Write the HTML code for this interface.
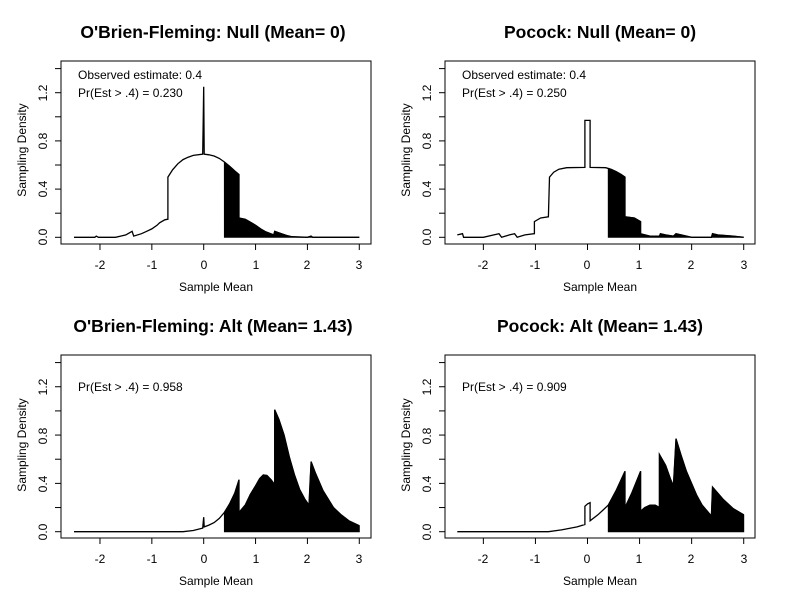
<!DOCTYPE html>
<html><head><meta charset="utf-8"><style>
html,body{margin:0;padding:0;background:#fff}
svg{display:block}
text{font-family:"Liberation Sans",Arial,sans-serif;fill:#000}
.t{font-size:17.5px;font-weight:bold}
.k{font-size:12px}
.a{font-size:12px}
</style></head><body>
<svg id="s" width="792" height="611" viewBox="0 0 792 611" xmlns="http://www.w3.org/2000/svg">
<rect width="792" height="611" fill="#fff"/>
<text class="t" x="213" y="38" text-anchor="middle">O'Brien-Fleming: Null (Mean= 0)</text>
<text class="t" x="600" y="38" text-anchor="middle">Pocock: Null (Mean= 0)</text>
<text class="t" x="213" y="332" text-anchor="middle">O'Brien-Fleming: Alt (Mean= 1.43)</text>
<text class="t" x="600" y="332" text-anchor="middle">Pocock: Alt (Mean= 1.43)</text>
<text class="k" x="216" y="291" text-anchor="middle">Sample Mean</text>
<text class="k" x="600" y="291" text-anchor="middle">Sample Mean</text>
<text class="k" x="216" y="585" text-anchor="middle">Sample Mean</text>
<text class="k" x="600" y="585" text-anchor="middle">Sample Mean</text>
<text class="k" transform="translate(26,150) rotate(-90)" text-anchor="middle">Sampling Density</text>
<text class="k" transform="translate(410,150) rotate(-90)" text-anchor="middle">Sampling Density</text>
<text class="k" transform="translate(26,445) rotate(-90)" text-anchor="middle">Sampling Density</text>
<text class="k" transform="translate(410,445) rotate(-90)" text-anchor="middle">Sampling Density</text>
<text class="a" x="78" y="79">Observed estimate: 0.4</text>
<text class="a" x="78" y="97">Pr(Est &gt; .4) = 0.230</text>
<text class="a" x="462" y="79">Observed estimate: 0.4</text>
<text class="a" x="462" y="97">Pr(Est &gt; .4) = 0.250</text>
<text class="a" x="78" y="391">Pr(Est &gt; .4) = 0.958</text>
<text class="a" x="462" y="391">Pr(Est &gt; .4) = 0.909</text>
<g id="tl"></g>
<g id="tr"></g>
<g id="bl"></g>
<g id="br"></g>
<g class="k">
<text class="k" x="100" y="269" text-anchor="middle">-2</text><text class="k" x="152" y="269" text-anchor="middle">-1</text><text class="k" x="204" y="269" text-anchor="middle">0</text><text class="k" x="256" y="269" text-anchor="middle">1</text><text class="k" x="307" y="269" text-anchor="middle">2</text><text class="k" x="359" y="269" text-anchor="middle">3</text>
<text class="k" x="483" y="269" text-anchor="middle">-2</text><text class="k" x="535" y="269" text-anchor="middle">-1</text><text class="k" x="587" y="269" text-anchor="middle">0</text><text class="k" x="639" y="269" text-anchor="middle">1</text><text class="k" x="691" y="269" text-anchor="middle">2</text><text class="k" x="744" y="269" text-anchor="middle">3</text>
<text class="k" x="100" y="563" text-anchor="middle">-2</text><text class="k" x="152" y="563" text-anchor="middle">-1</text><text class="k" x="204" y="563" text-anchor="middle">0</text><text class="k" x="256" y="563" text-anchor="middle">1</text><text class="k" x="307" y="563" text-anchor="middle">2</text><text class="k" x="359" y="563" text-anchor="middle">3</text>
<text class="k" x="483" y="563" text-anchor="middle">-2</text><text class="k" x="535" y="563" text-anchor="middle">-1</text><text class="k" x="587" y="563" text-anchor="middle">0</text><text class="k" x="639" y="563" text-anchor="middle">1</text><text class="k" x="691" y="563" text-anchor="middle">2</text><text class="k" x="744" y="563" text-anchor="middle">3</text>
<text class="k" transform="translate(47,237) rotate(-90)" text-anchor="middle">0.0</text><text class="k" transform="translate(47,189) rotate(-90)" text-anchor="middle">0.4</text><text class="k" transform="translate(47,141) rotate(-90)" text-anchor="middle">0.8</text><text class="k" transform="translate(47,93) rotate(-90)" text-anchor="middle">1.2</text>
<text class="k" transform="translate(431,237) rotate(-90)" text-anchor="middle">0.0</text><text class="k" transform="translate(431,189) rotate(-90)" text-anchor="middle">0.4</text><text class="k" transform="translate(431,141) rotate(-90)" text-anchor="middle">0.8</text><text class="k" transform="translate(431,93) rotate(-90)" text-anchor="middle">1.2</text>
<text class="k" transform="translate(47,532) rotate(-90)" text-anchor="middle">0.0</text><text class="k" transform="translate(47,484) rotate(-90)" text-anchor="middle">0.4</text><text class="k" transform="translate(47,436) rotate(-90)" text-anchor="middle">0.8</text><text class="k" transform="translate(47,387) rotate(-90)" text-anchor="middle">1.2</text>
<text class="k" transform="translate(431,532) rotate(-90)" text-anchor="middle">0.0</text><text class="k" transform="translate(431,484) rotate(-90)" text-anchor="middle">0.4</text><text class="k" transform="translate(431,436) rotate(-90)" text-anchor="middle">0.8</text><text class="k" transform="translate(431,387) rotate(-90)" text-anchor="middle">1.2</text>
</g>
</svg>
<script>
function panel(id,box,x0,ux,y0,uy,pts){
  var g=document.getElementById(id),h="";
  function X(x){return x0+x*ux} function Y(y){return y0-y*uy}
  h+='<rect x="'+box[0]+'" y="'+box[1]+'" width="'+(box[2]-box[0])+'" height="'+(box[3]-box[1])+'" fill="none" stroke="#000" stroke-width="1"/>';
  for(var i=-2;i<=3;i++){h+='<line x1="'+X(i)+'" x2="'+X(i)+'" y1="'+box[3]+'" y2="'+(box[3]+6)+'" stroke="#000"/>';}
  h+='<line x1="'+X(-2)+'" x2="'+X(3)+'" y1="'+box[3]+'" y2="'+box[3]+'" stroke="#000"/>';
  for(var j=0;j<=7;j++){var yy=Y(j*0.2);h+='<line x1="'+box[0]+'" x2="'+(box[0]-6)+'" y1="'+yy+'" y2="'+yy+'" stroke="#000"/>';}
  h+='<line x1="'+box[0]+'" x2="'+box[0]+'" y1="'+Y(0)+'" y2="'+Y(1.4)+'" stroke="#000"/>';
  var f=[],prev=null;
  for(var k=0;k<pts.length;k++){var p=pts[k];
    if(p[0]>=0.4){ if(f.length==0&&prev){var t=(0.4-prev[0])/(p[0]-prev[0]);f.push([0.4,prev[1]+t*(p[1]-prev[1])]);} f.push(p);} prev=p;}
  var d="M"+X(0.4)+","+Y(0);
  f.forEach(function(p){d+=" L"+X(p[0]).toFixed(1)+","+Y(p[1]).toFixed(1)});
  d+=" L"+X(f[f.length-1][0])+","+Y(0)+"Z";
  h+='<path d="'+d+'" fill="#000" stroke="#000" stroke-width="1"/>';
  var l="";pts.forEach(function(p,i){l+=(i?" L":"M")+X(p[0]).toFixed(1)+","+Y(p[1]).toFixed(1)});
  h+='<path d="'+l+'" fill="none" stroke="#000" stroke-width="1.3"/>';
  g.innerHTML=h;
}
var A=[[-2.5,0],[-2.1,0],[-2.07,0.01],[-2.03,0],[-1.7,0],[-1.6,0.01],[-1.5,0.02],[-1.38,0.05],[-1.35,0.01],[-1.2,0.03],[-1.1,0.05],[-1.0,0.07],[-0.9,0.1],[-0.85,0.12],[-0.75,0.145],[-0.69,0.15],[-0.69,0.5],[-0.6,0.56],[-0.5,0.61],[-0.4,0.645],[-0.3,0.665],[-0.2,0.68],[-0.02,0.69],[-0.01,0.96],[0,1.25],[0.01,0.69],[0.1,0.685],[0.2,0.675],[0.3,0.655],[0.4,0.625],[0.5,0.59],[0.6,0.55],[0.68,0.52],[0.68,0.16],[0.8,0.15],[0.9,0.125],[1.0,0.1],[1.1,0.07],[1.2,0.045],[1.35,0.02],[1.37,0.05],[1.5,0.03],[1.6,0.015],[1.7,0.005],[2.0,0],[2.07,0.01],[2.1,0],[3,0]];
var B=[[-2.5,0.02],[-2.4,0.03],[-2.38,0],[-2,0],[-1.8,0.02],[-1.7,0.03],[-1.65,0],[-1.5,0.02],[-1.4,0.03],[-1.35,0],[-1.2,0.02],[-1.02,0.03],[-1.02,0.13],[-0.9,0.16],[-0.75,0.17],[-0.73,0.5],[-0.65,0.54],[-0.55,0.565],[-0.4,0.578],[-0.05,0.58],[-0.05,0.97],[0.05,0.97],[0.05,0.58],[0.35,0.578],[0.45,0.565],[0.55,0.545],[0.65,0.52],[0.72,0.5],[0.72,0.17],[0.9,0.16],[1.02,0.13],[1.02,0.03],[1.2,0.01],[1.38,0.01],[1.4,0.03],[1.5,0.02],[1.65,0.01],[1.7,0.03],[1.8,0.02],[2,0],[2.38,0],[2.4,0.03],[2.5,0.02],[2.8,0.01],[3,0]];
var C=[[-2.5,0],[-0.4,0],[-0.2,0.01],[-0.02,0.03],[0,0.12],[0.01,0.04],[0.1,0.055],[0.2,0.075],[0.3,0.11],[0.4,0.16],[0.5,0.23],[0.6,0.32],[0.68,0.43],[0.68,0.16],[0.8,0.22],[0.9,0.31],[1.0,0.38],[1.08,0.44],[1.15,0.47],[1.22,0.465],[1.3,0.43],[1.37,0.39],[1.37,1.01],[1.45,0.93],[1.55,0.8],[1.65,0.62],[1.75,0.47],[1.85,0.35],[1.95,0.27],[2.03,0.22],[2.05,0.4],[2.07,0.58],[2.15,0.49],[2.3,0.34],[2.5,0.2],[2.65,0.14],[2.8,0.09],[3,0.05]];
var D=[[-2.5,0],[-0.75,0],[-0.5,0.015],[-0.2,0.04],[-0.05,0.06],[-0.05,0.21],[0,0.23],[0.05,0.24],[0.05,0.09],[0.2,0.14],[0.3,0.18],[0.4,0.22],[0.55,0.34],[0.72,0.5],[0.72,0.2],[0.85,0.32],[1.02,0.5],[1.02,0.17],[1.1,0.2],[1.2,0.22],[1.3,0.22],[1.38,0.2],[1.38,0.64],[1.5,0.55],[1.6,0.43],[1.65,0.38],[1.7,0.77],[1.8,0.63],[1.9,0.5],[2.0,0.4],[2.1,0.3],[2.2,0.22],[2.38,0.13],[2.4,0.37],[2.5,0.32],[2.6,0.27],[2.8,0.19],[3,0.14]];
panel("tl",[61,61,371,244],203.7,51.86,237.3,120.5,A);
panel("tr",[445,61,755,244],587.5,52.07,237.3,120.5,B);
panel("bl",[61,355,371,538],203.7,51.86,531.7,120.8,C);
panel("br",[445,355,755,538],587.5,52.07,531.7,120.8,D);
</script>
</body></html>
